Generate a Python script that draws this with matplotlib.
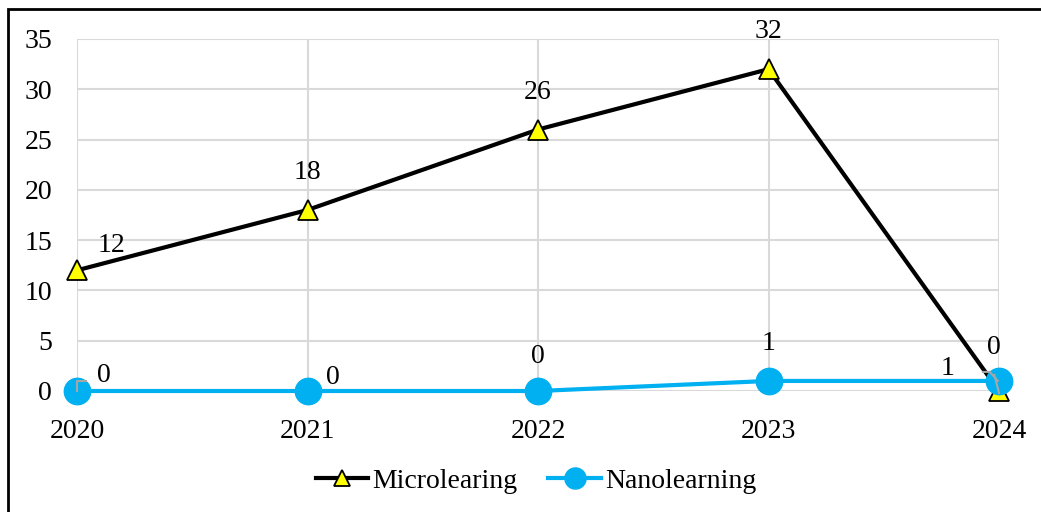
import matplotlib.pyplot as plt
from matplotlib.patches import Rectangle

years = ["2020", "2021", "2022", "2023", "2024"]
micro = [12, 18, 26, 32, 0]
nano = [0, 0, 0, 1, 1]

plt.rcParams['font.family'] = ['Liberation Serif', 'DejaVu Serif']

fig = plt.figure(figsize=(10.41, 5.12), dpi=100)
ax = fig.add_axes([77 / 1041, 1 - 391 / 512, (999 - 77) / 1041, (391 - 39) / 512])

x = list(range(len(years)))
ax.plot(x, micro, color='black', lw=3, marker='^', ms=15,
        mfc='#FFFF00', mec='black', mew=1.3, clip_on=False, zorder=3, label='Microlearing')
ax.plot(x, nano, color='#00B0F0', lw=3, marker='o', ms=19,
        mfc='#00B0F0', mec='#00B0F0', clip_on=False, zorder=4, label='Nanolearning')

ax.set_xlim(0, 4)
ax.set_ylim(0, 35)
ax.set_yticks(range(0, 36, 5))
ax.set_xticks(x)
ax.set_xticklabels(years)
ax.grid(True, color='#D9D9D9', lw=1.5)
ax.set_axisbelow(True)
for s in ax.spines.values():
    s.set_visible(False)
ax.tick_params(length=0, labelsize=20, colors='black')
ax.tick_params(axis='x', pad=20)
ax.tick_params(axis='y', pad=18)

fs = 20
# microlearning labels
micro_offsets = [(25, 9), (0, 18), (0, 18), (0, 18), (-4, 22)]
for i, v in enumerate(micro):
    dx, dy = micro_offsets[i]
    ax.annotate(str(v), (i, v), xytext=(dx, dy), textcoords='offset points',
                ha='center', va='bottom', fontsize=fs, zorder=5)
# nanolearning labels
nano_offsets = [(19, 2), (18, 1), (0, 16), (0, 18), (-37, 0)]
for i, v in enumerate(nano):
    dx, dy = nano_offsets[i]
    ax.annotate(str(v), (i, v), xytext=(dx, dy), textcoords='offset points',
                ha='center', va='bottom', fontsize=fs, zorder=5)

# leader lines
ax.plot([0, 0, 0.04], [0, 1.0, 1.0], color='#A6A6A6', lw=1.5, zorder=6, clip_on=False)
ax.plot([3.93, 3.96, 3.995], [1.9, 1.9, 1.0], color='#A6A6A6', lw=1.5, zorder=6, clip_on=False)
ax.plot([3.98, 4.0], [1.6, -0.2], color='#A6A6A6', lw=1.5, zorder=6, clip_on=False)

ax.legend(loc='center', bbox_to_anchor=(536 / 1041, 1 - 481 / 512), bbox_transform=fig.transFigure,
          ncol=2, frameon=False, fontsize=20, handlelength=1.9, columnspacing=1.1,
          handletextpad=0.15, markerscale=0.8)

fig.patches.append(Rectangle((8 / 1041, -0.1), 1.2, 1 - 9 / 512 + 0.1,
                             transform=fig.transFigure, fill=False, ec='black', lw=2))

fig.savefig('out.png', dpi=100)
